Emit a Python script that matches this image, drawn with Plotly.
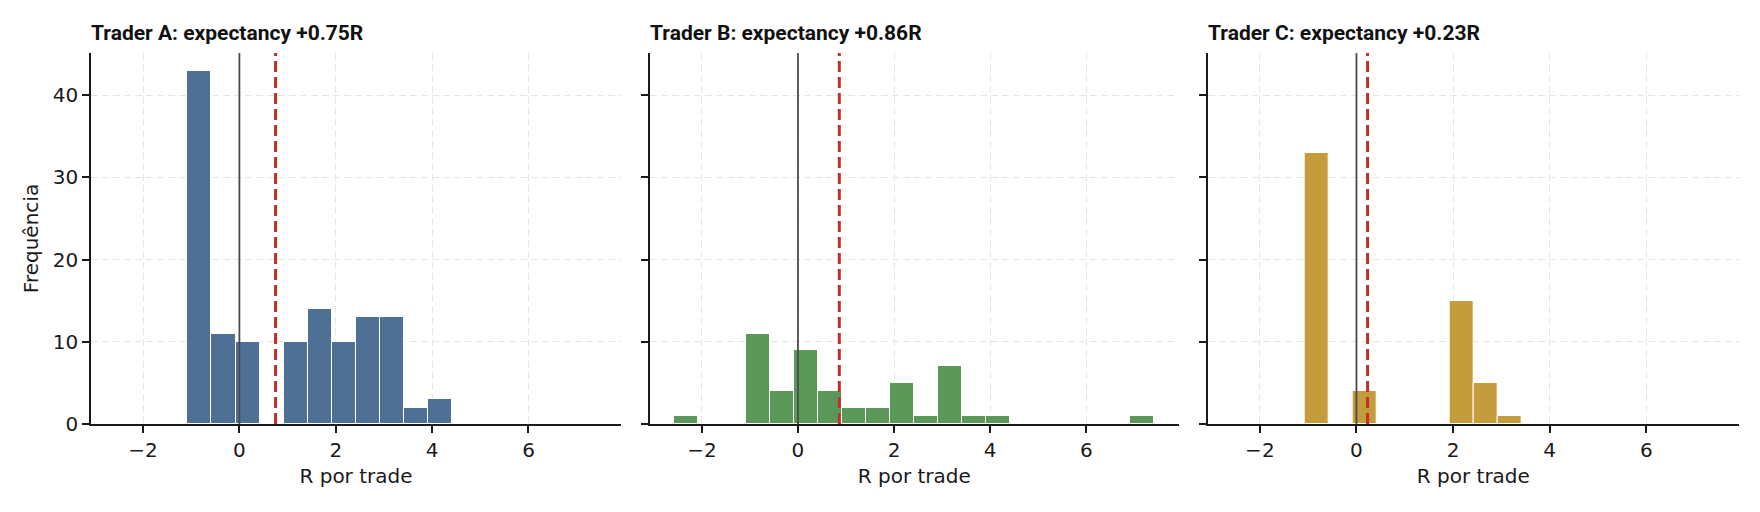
import plotly.graph_objects as go
from plotly.subplots import make_subplots

# histogram bins shared by the three traders (R multiples)
bin_edges = [-2.58, -2.08, -1.58, -1.08, -0.58, -0.08, 0.42, 0.92, 1.42, 1.92, 2.42,
             2.92, 3.42, 3.92, 4.42, 4.92, 5.42, 5.92, 6.42, 6.92, 7.42]

counts_a = [0, 0, 0, 43, 11, 10, 0, 10, 14, 10, 13, 13, 2, 3, 0, 0, 0, 0, 0, 0]
counts_b = [1, 0, 0, 11, 4, 9, 4, 2, 2, 5, 1, 7, 1, 1, 0, 0, 0, 0, 0, 1]
counts_c = [0, 0, 0, 33, 0, 4, 0, 0, 0, 15, 5, 1, 0, 0, 0, 0, 0, 0, 0, 0]

traders = ["Trader A", "Trader B", "Trader C"]
expectancy = [0.75, 0.86, 0.23]
colors = ["#4d7094", "#5a995a", "#c49c3c"]

x_ticks = [-2, 0, 2, 4, 6]
y_ticks = [0, 10, 20, 30, 40]

centers = [(a + b) / 2 for a, b in zip(bin_edges[:-1], bin_edges[1:])]
widths = [b - a for a, b in zip(bin_edges[:-1], bin_edges[1:])]

fig = make_subplots(rows=1, cols=3, shared_yaxes=True, horizontal_spacing=0.0)

tick_font = dict(family="DejaVu Sans", size=20, color="#1a1a1a")
title_font = dict(family="Roboto, Liberation Sans, sans-serif", size=21, color="#111")

for i, counts in enumerate([counts_a, counts_b, counts_c]):
    col = i + 1
    fig.add_trace(go.Bar(
        x=centers, y=counts, width=widths,
        marker=dict(color=colors[i], line=dict(color="white", width=1)),
        showlegend=False,
    ), row=1, col=col)
    # zero line and expectancy line
    fig.add_vline(x=0, line=dict(color="#4a4a4a", width=1.8), layer="above", row=1, col=col)
    fig.add_vline(x=expectancy[i], line=dict(color="#c62f28", width=3, dash="11px,5px"),
                  layer="above", row=1, col=col)
    xa = "x" if col == 1 else f"x{col}"
    ya = "y" if col == 1 else f"y{col}"
    fig.add_annotation(
        xref=f"{xa} domain", yref=f"{ya} domain", x=0, y=1, yshift=20,
        xanchor="left", yanchor="middle", showarrow=False, xshift=-2,
        text=f"<b>{traders[i]}: expectancy {expectancy[i]:+.2f}R</b>",
        font=title_font,
    )

doms = [[0.0, 0.3216], [0.3392, 0.6599], [0.6776, 1.0]]
tick_text = [str(v).replace("-", "\u2212") for v in x_ticks]
for i in range(3):
    col = i + 1
    fig.update_xaxes(
        domain=doms[i], range=[-3.08, 7.92], tickvals=x_ticks, ticktext=tick_text,
        showline=True, linecolor="#1a1a1a", linewidth=1.6, ticks="outside", ticklen=7,
        tickwidth=1.6, tickcolor="#1a1a1a", tickfont=tick_font,
        showgrid=True, gridcolor="#e6e6e6", griddash="7px,4px", gridwidth=1.2,
        zeroline=False,
        title=dict(text="R por trade", font=tick_font, standoff=8),
        row=1, col=col,
    )
    fig.update_yaxes(
        range=[0, 45.15], tickvals=y_ticks,
        showline=True, linecolor="#1a1a1a", linewidth=1.6, ticks="outside", ticklen=7,
        tickwidth=1.6, tickcolor="#1a1a1a", tickfont=tick_font,
        showgrid=True, gridcolor="#e6e6e6", griddash="7px,4px", gridwidth=1.2,
        zeroline=False, showticklabels=(col == 1),
        row=1, col=col,
    )

fig.update_yaxes(title=dict(text="Frequência", font=tick_font, standoff=9), row=1, col=1)

# the page body has an 8px margin, so the figure is 8px smaller on each side
fig.update_layout(
    width=1752, height=504,
    margin=dict(l=83, r=21, t=45, b=88),
    plot_bgcolor="white", paper_bgcolor="white",
    bargap=0,
)

fig.write_html("out.html")
